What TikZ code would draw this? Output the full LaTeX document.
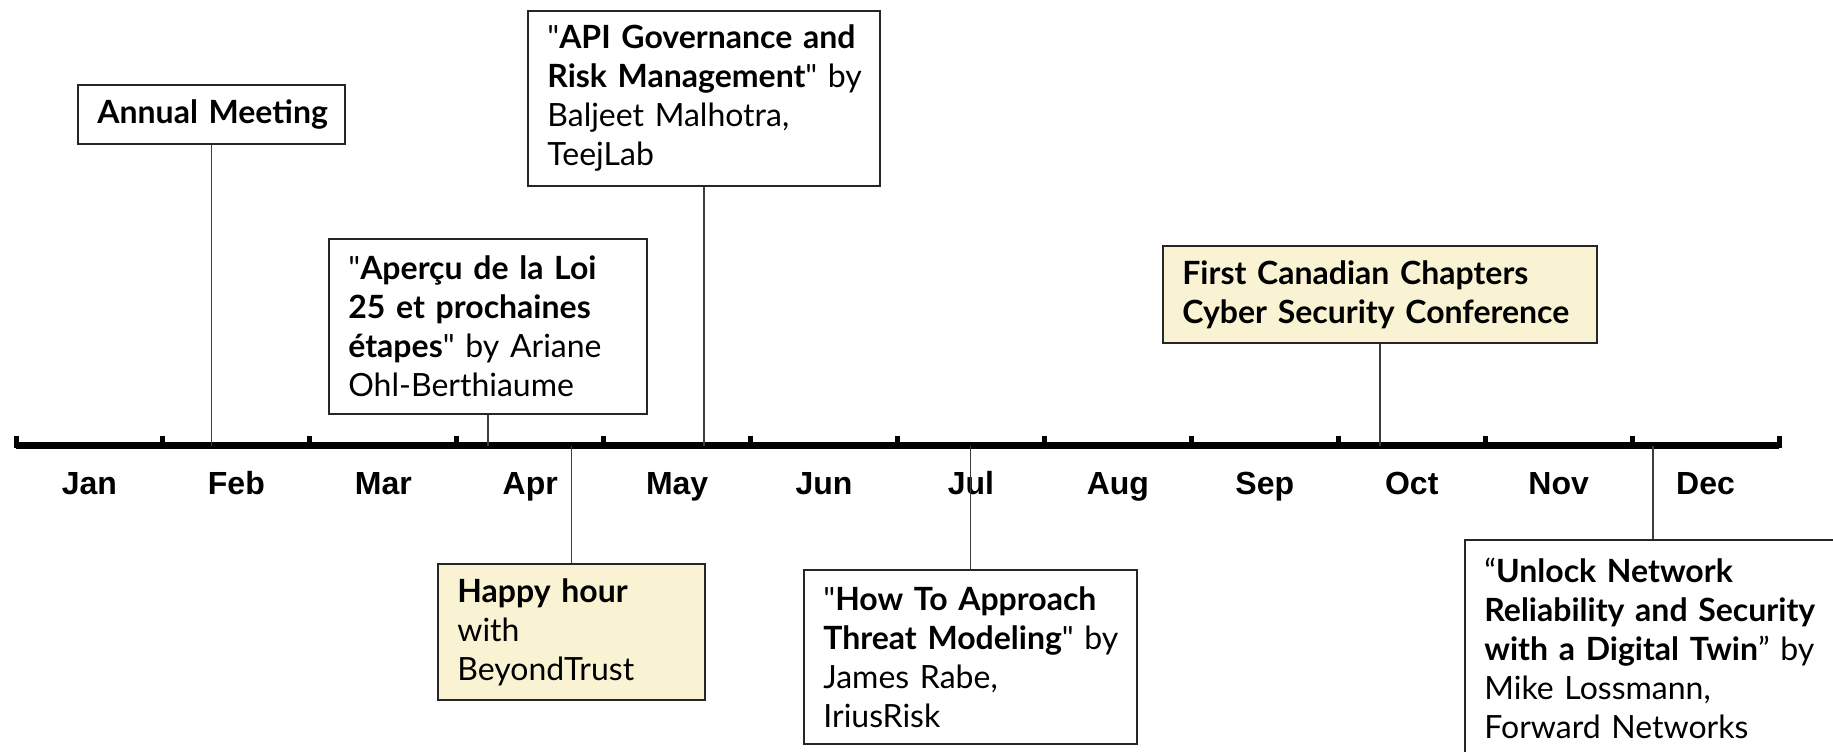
\documentclass[tikz,border=0pt]{standalone}
\usepackage{fontspec}
\setmainfont{Lato}
\newfontfamily\monthfont{Liberation Sans}
\usetikzlibrary{calc}
\usepackage{xcolor}

\definecolor{notefill}{RGB}{250,243,211}
\definecolor{stemgray}{RGB}{60,60,60}
\newcommand{\qd}{\textquotedbl}

\tikzset{
  event/.style={draw=black!85, line width=0.9pt, anchor=north west, align=left,
    inner xsep=0pt, inner ysep=0pt, font=\fontsize{16}{19.5}\selectfont,
    execute at begin node={\leftskip=9.75pt\hyphenpenalty=10000}},
  notebox/.style={event, fill=notefill},
  stem/.style={stemgray, line width=0.7pt},
  month/.style={anchor=base, font=\monthfont\bfseries\fontsize{16}{19}\selectfont}
}

\begin{document}
\begin{tikzpicture}[x=0.5pt, y=-0.5pt]
\useasboundingbox (0,0) rectangle (1833,751);
\clip (0,0) rectangle (1833,751);
% axis
\coordinate (axl) at (16,445.5);
\coordinate (axr) at (1779,445.5);
\draw[line width=3.5pt] (axl) -- (axr);
\foreach \m [count=\i from 0, evaluate=\i as \xt using 16+146.92*\i] in {Jan,Feb,Mar,Apr,May,Jun,Jul,Aug,Sep,Oct,Nov,Dec} {
 \draw[line width=2.5pt] (\xt,436) --++(0,9.5);
 \node[month] (m\i) at (\xt+73.46,494) {\m};
}
\draw[line width=2.5pt] (axr) ++(0,-9.5) --++(0,12);
\draw[line width=2.5pt] (axl) ++(0,-9.5) --++(0,12);

% events above the axis
\node[event, text width=133.5pt, minimum height=29.5pt] (annual) at (77,84)
  {\textbf{Annual Meeting}};
\node[event, text width=176pt, minimum height=87.5pt] (api) at (527,10)
  {\qd\textbf{API Governance and}\\\textbf{Risk Management}\qd{} by\\Baljeet Malhotra,\\TeejLab};
\node[event, text width=159pt, minimum height=87.5pt] (loi) at (328,238)
  {\qd\textbf{Aperçu de la Loi}\\\textbf{25 et prochaines}\\\textbf{étapes}\qd{} by Ariane\\Ohl-Berthiaume};
\node[notebox, text width=217pt, minimum height=48.5pt] (conf) at (1162,245)
  {\textbf{First Canadian Chapters}\\\textbf{Cyber Security Conference}};

% events below the axis
\node[notebox, text width=133.5pt, minimum height=68pt] (happy) at (437,563)
  {\textbf{Happy hour}\\with\\BeyondTrust};
\node[event, text width=166.5pt, minimum height=87pt] (threat) at (803,569)
  {\qd\textbf{How To Approach}\\\textbf{Threat Modeling}\qd{} by\\James Rabe,\\IriusRisk};
\node[event, text width=188pt, minimum height=108pt] (twin) at (1464,539)
  {“\textbf{Unlock Network}\\\textbf{Reliability and Security}\\\textbf{with a Digital Twin}” by\\Mike Lossmann,\\Forward Networks};

% stems
\foreach \e in {annual,api,loi,conf} {
 \draw[stem] (\e.south) -- (\e.south |- axl);
}
\foreach \e in {happy,threat,twin} {
 \draw[stem] (\e.north) -- (\e.north |- axl);
}
\end{tikzpicture}
\end{document}
